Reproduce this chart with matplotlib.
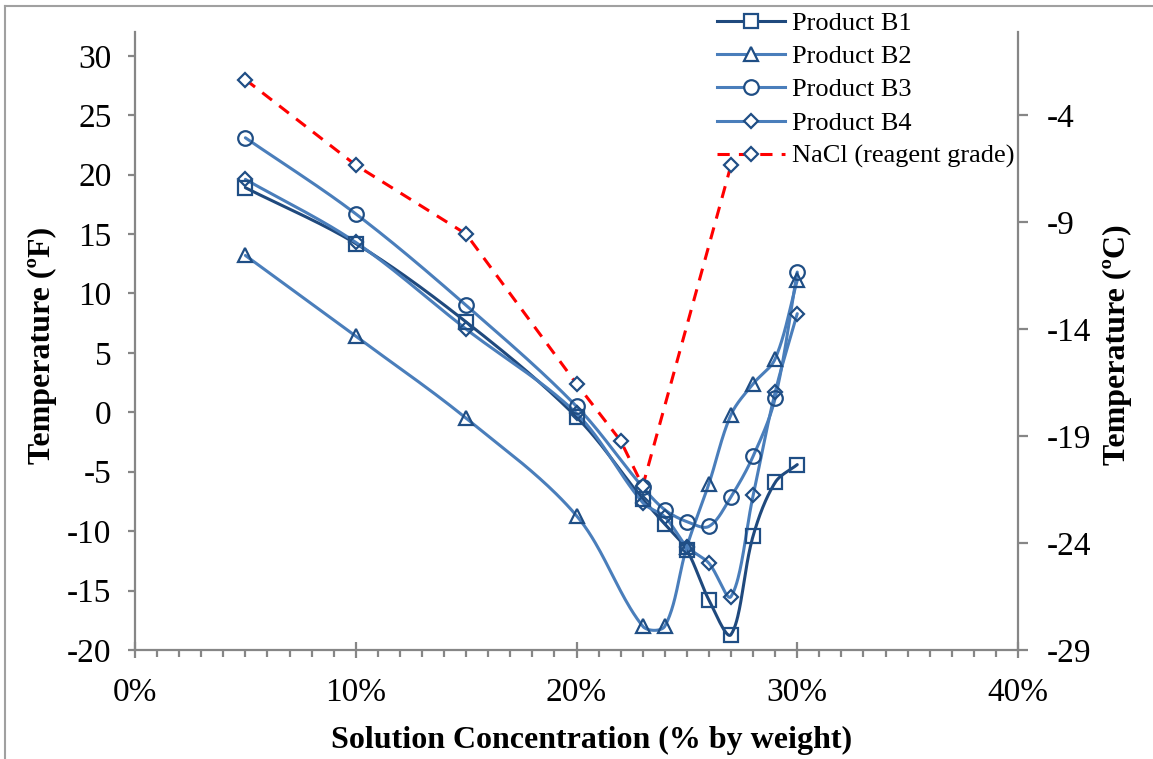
import numpy as np
import matplotlib
matplotlib.use("Agg")
import matplotlib.pyplot as plt
from matplotlib.lines import Line2D
from matplotlib.ticker import FixedLocator, MultipleLocator, FuncFormatter

# ---- data (concentration in % by weight, temperature in deg F) ----
conc = [5, 10, 15, 20, 23, 24, 25, 26, 27, 28, 29, 30]
b1 = [18.9, 14.2, 7.6, -0.4, -7.3, -9.4, -11.6, -15.8, -18.7, -10.4, -5.9, -4.4]
b2 = [13.2, 6.4, -0.5, -8.7, -18.0, -18.0, -11.3, -6.0, -0.2, 2.4, 4.5, 11.1]
b3 = [23.1, 16.7, 9.0, 0.5, -6.3, -8.2, -9.2, -9.6, -7.1, -3.7, 1.2, 11.8]
b4 = [19.6, 14.3, 7.0, -0.1, -7.6, -8.8, -11.3, -12.7, -15.5, -7.0, 1.7, 8.3]
nacl_conc = [5, 10, 15, 20, 22, 23, 27]
nacl = [28.0, 20.8, 15.0, 2.4, -2.4, -6.2, 20.8]

series_names = ["Product B1", "Product B2", "Product B3", "Product B4"]
nacl_name = "NaCl (reagent grade)"

left_ticks = list(range(-20, 31, 5))
right_ticks = [-29, -24, -19, -14, -9, -4]

DARK = "#1F497D"
LIGHT = "#4A7EBB"
EDGE = "#1F4E85"
SPINE = "#868686"

plt.rcParams["font.family"] = ["Liberation Serif", "DejaVu Serif"]
plt.rcParams["axes.unicode_minus"] = False

W, H = 1153, 759
fig = plt.figure(figsize=(W / 100, H / 100), dpi=100)
ax = fig.add_axes([135 / W, 1 - 650 / H, (1018 - 135) / W, (650 - 32) / H])
ax.set_xlim(0, 40)
ax.set_ylim(-20, 32)


def smooth(x, y, n=40):
    """Bezier smoothing with tangents scaled by neighbouring segment lengths
    (measured in display space) so short segments do not overshoot."""
    disp = ax.transData.transform(np.column_stack([x, y]).astype(float))
    m = len(disp)
    out = []
    for i in range(m - 1):
        p0 = disp[i - 1] if i > 0 else disp[i]
        p1 = disp[i]
        p2 = disp[i + 1]
        p3 = disp[i + 2] if i + 2 < m else disp[i + 1]
        d01 = np.linalg.norm(p1 - p0)
        d12 = np.linalg.norm(p2 - p1)
        d23 = np.linalg.norm(p3 - p2)
        f1 = d12 / (d01 + d12) if d01 + d12 > 0 else 0.5
        f2 = d12 / (d12 + d23) if d12 + d23 > 0 else 0.5
        c1 = p1 + (p2 - p0) * f1 / 3.0
        c2 = p2 - (p3 - p1) * f2 / 3.0
        t = np.linspace(0, 1, n)[:, None]
        seg = ((1 - t) ** 3) * p1 + 3 * ((1 - t) ** 2) * t * c1 + 3 * (1 - t) * t ** 2 * c2 + t ** 3 * p2
        out.append(seg if i == 0 else seg[1:])
    s = ax.transData.inverted().transform(np.vstack(out))
    return s[:, 0], s[:, 1]


styles = [
    (b1, DARK, "s", 10.5),
    (b2, LIGHT, "^", 10.5),
    (b3, LIGHT, "o", 10.5),
    (b4, LIGHT, "D", 7.5),
]
handles = []
for (vals, col, mk, ms), name in zip(styles, series_names):
    sx, sy = smooth(conc, vals)
    ax.plot(sx, sy, color=col, lw=2.2, zorder=2, solid_capstyle="round")
    ax.plot(conc, vals, ls="none", marker=mk, ms=ms, mfc="none", mec=EDGE, mew=1.6, zorder=3)
    handles.append(Line2D([], [], color=col, lw=2.2, marker=mk, ms=ms, mfc="white", mec=EDGE, mew=1.6, label=name))

ax.plot(nacl_conc, nacl, color="#FF0000", lw=2.2, ls=(0, (4, 3)), zorder=2)
ax.plot(nacl_conc, nacl, ls="none", marker="D", ms=7.5, mfc="white", mec=EDGE, mew=1.6, zorder=3)
handles.append(Line2D([], [], color="#FF0000", lw=2.2, ls=(0, (4, 3)), marker="D", ms=7.5, mfc="white", mec=EDGE, mew=1.6, label=nacl_name))

ax.xaxis.set_major_locator(MultipleLocator(10))
ax.xaxis.set_minor_locator(MultipleLocator(1))
ax.xaxis.set_major_formatter(FuncFormatter(lambda v, p: f"{v:.0f}%"))
ax.yaxis.set_major_locator(FixedLocator(left_ticks))

for side in ["top", "right"]:
    ax.spines[side].set_visible(False)
for side in ["left", "bottom"]:
    ax.spines[side].set_color(SPINE)
    ax.spines[side].set_linewidth(1.6)

ax.tick_params(axis="x", which="major", direction="inout", length=11, width=1.6, color=SPINE,
               labelsize=24, pad=14)
ax.tick_params(axis="x", which="minor", direction="out", length=5, width=1.6, color=SPINE)
ax.tick_params(axis="y", which="major", direction="out", length=5, width=1.6, color=SPINE,
               labelsize=24, pad=12)

ax2 = ax.twinx()
ax2.set_ylim(-29, -29 + 52 / 1.8)
ax2.yaxis.set_major_locator(FixedLocator(right_ticks))
for side in ["top", "left", "bottom"]:
    ax2.spines[side].set_visible(False)
ax2.spines["right"].set_color(SPINE)
ax2.spines["right"].set_linewidth(1.6)
ax2.tick_params(axis="y", which="major", direction="out", length=7, width=1.6, color=SPINE,
                labelsize=24, pad=14)

fig.text(42 / W, 1 - 345 / H, "Temperature (ºF)", rotation=90, ha="center", va="center",
         fontsize=23, fontweight="bold")
fig.text(1117 / W, 1 - 345 / H, "Temperature (ºC)", rotation=90, ha="center", va="center",
         fontsize=23, fontweight="bold")
fig.text(592 / W, 1 - 740 / H, "Solution Concentration (% by weight)", ha="center", va="center",
         fontsize=23, fontweight="bold")

leg = fig.legend(handles=handles, loc="upper left", bbox_to_anchor=(706 / W, 1 - 1 / H),
                 frameon=False, fontsize=19, handlelength=2.6, handletextpad=0.27,
                 labelspacing=0.37, borderaxespad=0)

# outer chart border
fig.add_artist(Line2D([5 / W, 5 / W], [0, 1 - 6 / H], color="#A0A0A0", lw=1.5))
fig.add_artist(Line2D([5 / W, 1], [1 - 6 / H, 1 - 6 / H], color="#A0A0A0", lw=1.5))

fig.savefig("out.png", dpi=100)
